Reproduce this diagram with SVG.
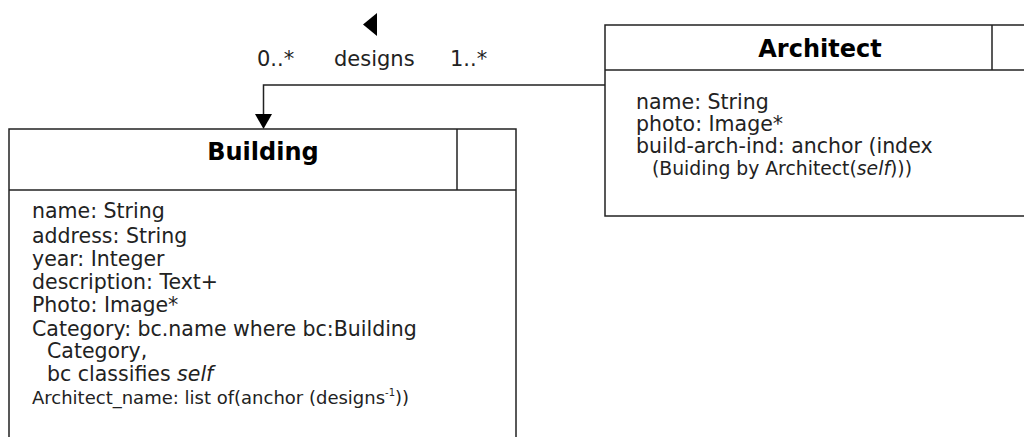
<svg xmlns="http://www.w3.org/2000/svg" width="1024" height="437" viewBox="0 0 1024 437">
<style>
.box{fill:#fff;stroke:#222;stroke-width:1.5}
.ln{fill:none;stroke:#222;stroke-width:1.5}
.t{font-family:"DejaVu Sans",Verdana,sans-serif;font-size:20.5px;fill:#222}
.sup{font-size:10px}
.title{font-family:"DejaVu Sans",Verdana,sans-serif;font-size:24px;font-weight:bold;fill:#000;text-anchor:middle}
.lbl{font-family:"DejaVu Sans",Verdana,sans-serif;font-size:21px;fill:#222}
</style>
<rect width="1024" height="437" fill="#fff"/>
<g id="connectors">
<polyline class="ln" points="605,85 263.5,85 263.5,116"/>
<polygon points="255,114 272,114 263.5,129" fill="#000"/>
<polygon points="377,13 377,36 363,24.5" fill="#000"/>
<text class="lbl" x="257" y="66">0..*</text>
<text class="lbl" x="334" y="66">designs</text>
<text class="lbl" x="450" y="66">1..*</text>
</g>
<g id="building">
<rect class="box" x="9" y="129" width="507" height="330"/>
<line class="ln" x1="9" y1="190" x2="516" y2="190"/>
<line class="ln" x1="457" y1="129" x2="457" y2="190"/>
<text class="title" x="263" y="160">Building</text>
<text class="t" x="32" y="218">name: String</text>
<text class="t" x="32" y="243">address: String</text>
<text class="t" x="32" y="266">year: Integer</text>
<text class="t" x="32" y="289">description: Text+</text>
<text class="t" x="32" y="312">Photo: Image*</text>
<text class="t" x="32" y="336">Category: bc.name where bc:Building</text>
<text class="t" x="47" y="358">Category,</text>
<text class="t" x="47" y="381">bc classifies <tspan font-style="italic">self</tspan></text>
<text class="t" x="32" y="404" style="font-size:18px">Architect_name: list of(anchor (designs<tspan class="sup" dy="-8">-1</tspan><tspan dy="8">))</tspan></text>
</g>
<g id="architect">
<rect class="box" x="605" y="25" width="440" height="191"/>
<line class="ln" x1="605" y1="70" x2="1045" y2="70"/>
<line class="ln" x1="992" y1="25" x2="992" y2="70"/>
<text class="title" x="820" y="57">Architect</text>
<text class="t" x="636" y="109">name: String</text>
<text class="t" x="636" y="131">photo: Image*</text>
<text class="t" x="636" y="153">build-arch-ind: anchor (index</text>
<text class="t" x="652" y="175" style="font-size:18.8px">(Buiding by Architect(<tspan font-style="italic">self</tspan>)))</text>
</g>
</svg>
